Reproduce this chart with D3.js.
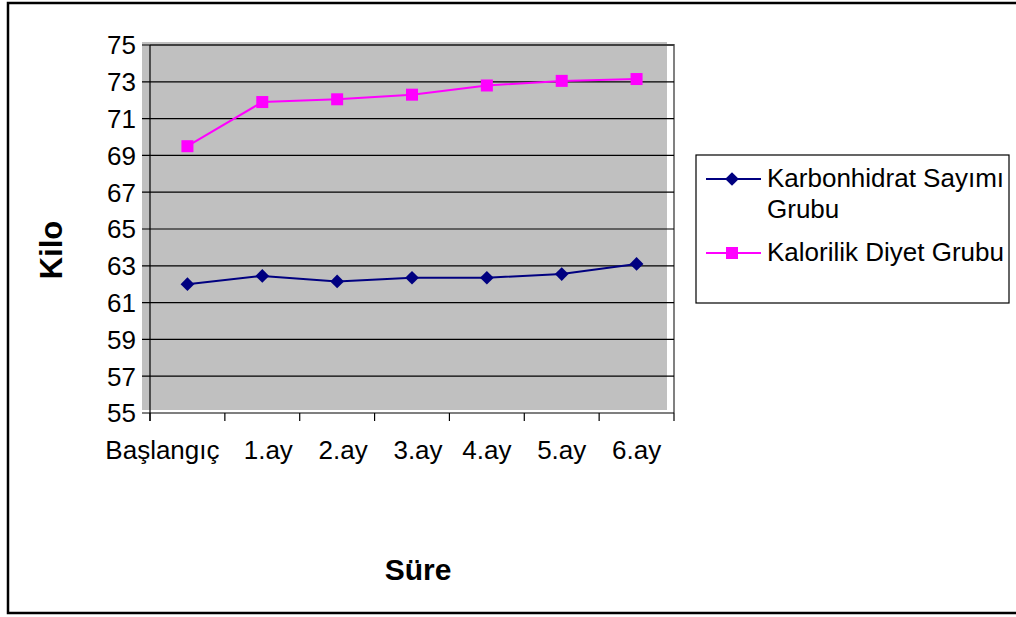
<!DOCTYPE html>
<html><head><meta charset="utf-8">
<script src="https://cdn.jsdelivr.net/npm/d3@7"></script>
<style>body{margin:0;background:#fff}svg text{font-family:"Liberation Sans",Arial,sans-serif}</style>
</head><body><svg id="c" width="1016" height="617"></svg>
<script>
const categories = ["Başlangıç","1.ay","2.ay","3.ay","4.ay","5.ay","6.ay"];
const karbonhidrat = [62.0, 62.45, 62.15, 62.35, 62.35, 62.55, 63.1];
const kalorilik = [69.5, 71.9, 72.05, 72.3, 72.8, 73.05, 73.15];
const yTicks = [55,57,59,61,63,65,67,69,71,73,75];
const seriesNames = ["Karbonhidrat Sayımı Grubu","Kalorilik Diyet Grubu"];
const yTitle = "Kilo", xTitle = "Süre";

const svg = d3.select("#c");
// outer border
svg.append("path").attr("d","M1016,3 H8 V613 H1016").attr("fill","none").attr("stroke","#000").attr("stroke-width",2.5);

const x = d3.scaleBand().domain(categories).range([150,674]);
const y = d3.scaleLinear().domain([55,75]).range([413,45]);

// plot background
svg.append("rect").attr("x",142).attr("y",42).attr("width",525).attr("height",368).attr("fill","#c0c0c0");
// frame top/right
svg.append("path").attr("d",`M150,${y(75)} H674 V${y(55)}`).attr("fill","none").attr("stroke","#808080").attr("stroke-width",2);
// gridlines
svg.append("g").selectAll("line").data(yTicks).join("line")
  .attr("x1",142).attr("x2",674).attr("y1",d=>y(d)).attr("y2",d=>y(d))
  .attr("stroke","#000").attr("stroke-width",1.2);
// y axis line
svg.append("line").attr("x1",150).attr("x2",150).attr("y1",y(75)).attr("y2",y(55)+8).attr("stroke","#000").attr("stroke-width",1.2);
// x axis ticks
const bounds = categories.map(c=>x(c)).concat([x.range()[1]]);
svg.append("g").selectAll("line").data(bounds).join("line")
  .attr("x1",d=>d).attr("x2",d=>d).attr("y1",y(55)).attr("y2",y(55)+8).attr("stroke","#000").attr("stroke-width",1.2);
// y tick labels
svg.append("g").selectAll("text").data(yTicks).join("text")
  .attr("x",136).attr("y",d=>y(d)).attr("dy","0.36em").attr("text-anchor","end")
  .attr("font-size",26).text(d=>d);
// x tick labels
svg.append("g").selectAll("text").data(categories).join("text")
  .attr("x",d=>x(d)+x.bandwidth()/2).attr("dx",(d,i)=>i===0?-25:(i<4?6:0)).attr("y",459).attr("text-anchor","middle")
  .attr("font-size",26).text(d=>d);
// titles
svg.append("text").attr("transform","translate(62,250) rotate(-90)").attr("text-anchor","middle")
  .attr("font-size",31).attr("font-weight","bold").text(yTitle);
svg.append("text").attr("x",418).attr("y",580).attr("text-anchor","middle")
  .attr("font-size",30).attr("font-weight","bold").text(xTitle);

const cx = d=>x(d)+x.bandwidth()/2;
const line = d3.line().x((d,i)=>cx(categories[i])).y(d=>y(d));
const diamond = d3.symbol().type(d3.symbolDiamond2).size(120);
// series 1
svg.append("path").datum(karbonhidrat).attr("d",line).attr("fill","none").attr("stroke","#000080").attr("stroke-width",2);
svg.append("g").selectAll("path").data(karbonhidrat).join("path")
  .attr("transform",(d,i)=>`translate(${cx(categories[i])},${y(d)})`).attr("d",diamond).attr("fill","#000080");
// series 2
svg.append("path").datum(kalorilik).attr("d",line).attr("fill","none").attr("stroke","#ff00ff").attr("stroke-width",2);
svg.append("g").selectAll("rect").data(kalorilik).join("rect")
  .attr("x",(d,i)=>cx(categories[i])-6).attr("y",d=>y(d)-6).attr("width",12).attr("height",12).attr("fill","#ff00ff");

// legend
const lg = svg.append("g");
lg.append("rect").attr("x",696).attr("y",155).attr("width",313).attr("height",148).attr("fill","#fff").attr("stroke","#000").attr("stroke-width",1.2);
lg.append("line").attr("x1",706).attr("x2",761).attr("y1",179).attr("y2",179).attr("stroke","#000080").attr("stroke-width",2);
lg.append("path").attr("transform","translate(732,179)").attr("d",diamond).attr("fill","#000080");
lg.append("text").attr("x",767).attr("y",187).attr("font-size",26).text("Karbonhidrat Sayımı");
lg.append("text").attr("x",767).attr("y",218).attr("font-size",26).text("Grubu");
lg.append("line").attr("x1",706).attr("x2",761).attr("y1",253).attr("y2",253).attr("stroke","#ff00ff").attr("stroke-width",2);
lg.append("rect").attr("x",726).attr("y",247).attr("width",12).attr("height",12).attr("fill","#ff00ff");
lg.append("text").attr("x",767).attr("y",261).attr("font-size",26).text("Kalorilik Diyet Grubu");
</script></body></html>
